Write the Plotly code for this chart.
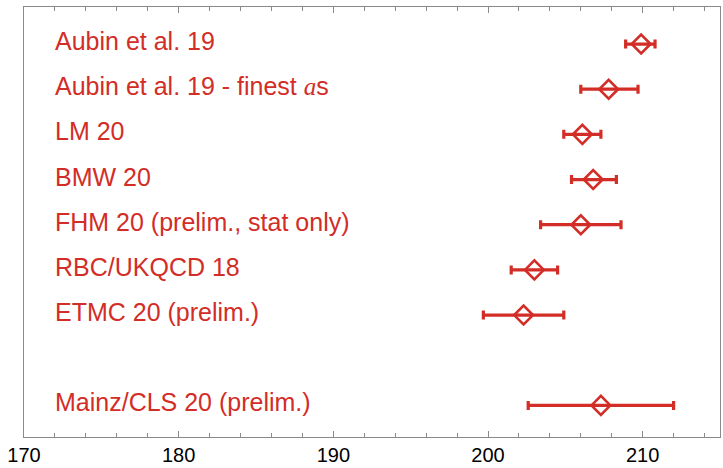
import plotly.graph_objects as go

# ---- data ----
labels = [
    "Aubin et al. 19",
    "Aubin et al. 19 - finest <span style=\"font-family:'Liberation Serif';font-style:italic\">a</span>s",
    "LM 20",
    "BMW 20",
    "FHM 20 (prelim., stat only)",
    "RBC/UKQCD 18",
    "ETMC 20 (prelim.)",
    "Mainz/CLS 20 (prelim.)",
]
rows = [9, 8, 7, 6, 5, 4, 3, 1]
centers = [209.9, 207.8, 206.1, 206.8, 206.0, 203.0, 202.3, 207.3]
err_lo = [208.9, 206.0, 204.9, 205.4, 203.4, 201.5, 199.7, 202.6]
err_hi = [210.8, 209.7, 207.3, 208.3, 208.6, 204.5, 204.9, 212.0]
x_ticks = [170, 180, 190, 200, 210]

RED = "#d22d26"
FRAME = "#8a8a8a"

plus = [h - c for h, c in zip(err_hi, centers)]
minus = [c - l for c, l in zip(centers, err_lo)]

fig = go.Figure()
fig.add_trace(go.Scatter(
    x=centers, y=rows, mode="markers",
    marker=dict(symbol="diamond-open", size=14.5, color=RED,
                line=dict(width=2.6, color=RED)),
    error_x=dict(type="data", symmetric=False, array=plus, arrayminus=minus,
                 color=RED, thickness=3.2, width=4.5),
    showlegend=False, hoverinfo="skip",
))

for lab, r in zip(labels, rows):
    fig.add_annotation(x=171.85, y=r, text=lab, showarrow=False,
                       xanchor="left", yanchor="middle", yshift=3,
                       font=dict(family="Liberation Sans, Arial", size=25, color=RED))

fig.update_layout(
    width=723, height=468,
    margin=dict(l=24, r=2, t=7, b=29),
    paper_bgcolor="white", plot_bgcolor="white",
    xaxis=dict(range=[170, 215], tickvals=x_ticks, ticktext=[str(t) for t in x_ticks],
               showgrid=False, zeroline=False,
               showline=True, linecolor=FRAME, linewidth=1, mirror="allticks",
               ticks="inside", ticklen=6, tickcolor=FRAME, tickwidth=1,
               minor=dict(dtick=2, ticks="inside", ticklen=4, tickcolor=FRAME, showgrid=False),
               tickfont=dict(family="Liberation Sans, Arial", size=20, color="black")),
    yaxis=dict(range=[0.3, 9.82], showticklabels=False, showgrid=False, zeroline=False,
               showline=True, linecolor=FRAME, linewidth=1, mirror=True, ticks=""),
)

fig.write_html("out.html")
